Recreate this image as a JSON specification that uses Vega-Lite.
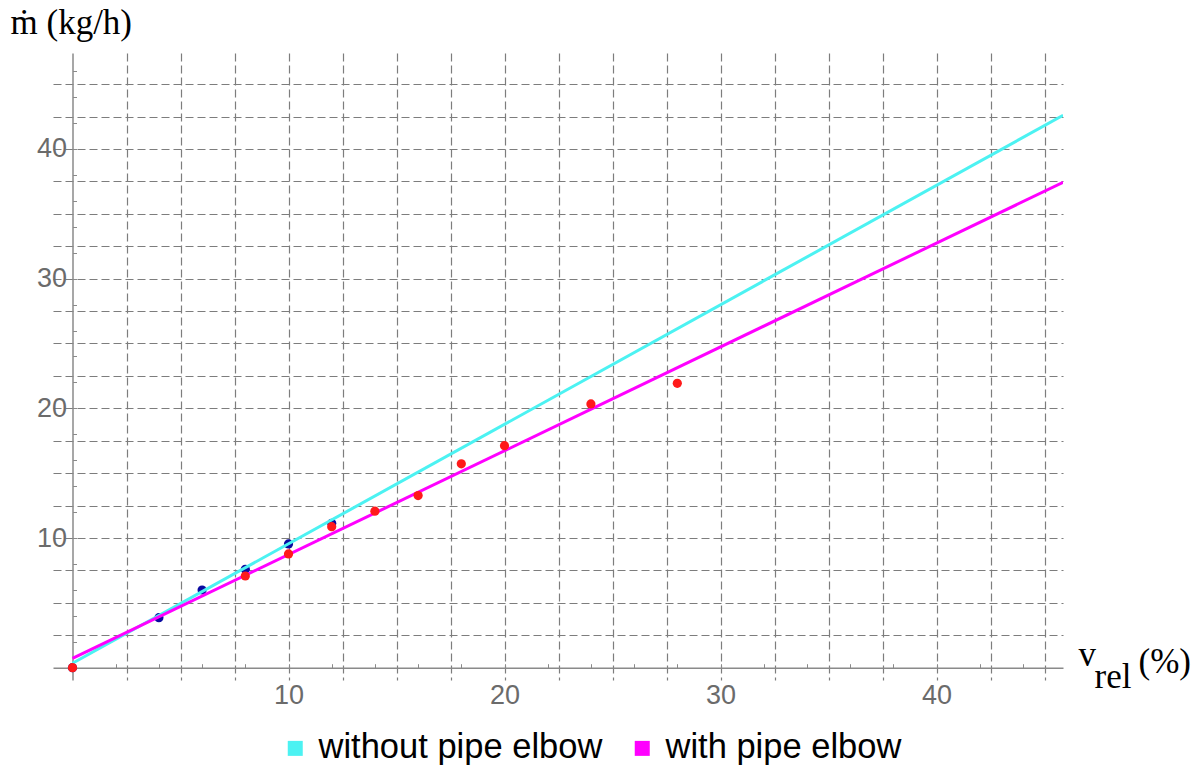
{
  "$schema": "https://vega.github.io/schema/vega-lite/v6.json",
  "width": 1010,
  "height": 627,
  "autosize": "none",
  "padding": {"left": 53, "top": 53, "right": 138, "bottom": 87},
  "background": "white",
  "config": {
    "view": {"stroke": null},
    "axis": {
      "labelFont": "Liberation Sans",
      "labelFontSize": 27,
      "labelColor": "#6b6b6b",
      "titleFont": "Liberation Serif",
      "titleFontSize": 35,
      "titleFontWeight": "normal",
      "titleColor": "black",
      "domainColor": "#8a8a8a",
      "domainWidth": 1.5,
      "tickColor": "#8a8a8a",
      "gridColor": "#7d7d7d",
      "gridDash": [8, 4],
      "gridWidth": 1.2
    }
  },
  "datasets": {
    "fits": [
      {"series": "without pipe elbow", "v": 0, "m": 0.34},
      {"series": "without pipe elbow", "v": 45.86, "m": 42.6},
      {"series": "with pipe elbow", "v": 0, "m": 0.72},
      {"series": "with pipe elbow", "v": 45.86, "m": 37.43}
    ],
    "without": [
      {"v": 0, "m": 0},
      {"v": 4, "m": 3.86},
      {"v": 6, "m": 5.99},
      {"v": 8, "m": 7.59},
      {"v": 10, "m": 9.54},
      {"v": 12, "m": 11.13}
    ],
    "with": [
      {"v": 0, "m": 0},
      {"v": 8, "m": 7.07},
      {"v": 10, "m": 8.77},
      {"v": 12, "m": 10.87},
      {"v": 14, "m": 12.07},
      {"v": 16, "m": 13.27},
      {"v": 18, "m": 15.72},
      {"v": 20, "m": 17.12},
      {"v": 24, "m": 20.34},
      {"v": 28, "m": 21.93}
    ]
  },
  "resolve": {
    "scale": {"x": "shared", "y": "shared"},
    "axis": {"x": "independent", "y": "independent"}
  },
  "layer": [
    {
      "data": {"name": "without"},
      "mark": {"type": "circle", "size": 85, "opacity": 1, "color": "#0a0aa0"},
      "encoding": {
        "x": {
          "field": "v", "type": "quantitative",
          "scale": {"domain": [-0.903, 45.856], "nice": false, "zero": false},
          "axis": {
            "orient": "bottom", "offset": -12.3,
            "domain": false, "ticks": false, "labels": false, "grid": false,
            "title": "rel", "titleX": 1041, "titleY": 19.3,
            "titleAlign": "left", "titleBaseline": "alphabetic", "titleAnchor": null
          }
        },
        "y": {
          "field": "m", "type": "quantitative",
          "scale": {"domain": [-0.949, 47.4], "nice": false, "zero": false},
          "axis": null
        }
      }
    },
    {
      "data": {"name": "fits"},
      "mark": {"type": "line", "strokeWidth": 3, "clip": true},
      "encoding": {
        "x": {
          "field": "v", "type": "quantitative",
          "scale": {"domain": [-0.903, 45.856], "nice": false, "zero": false},
          "axis": {
            "orient": "bottom", "offset": -12.3,
            "values": [2, 2.5, 4, 5, 6, 7.5, 8, 10, 12, 12.5, 14, 15, 16, 17.5, 18, 20, 22, 22.5, 24, 25, 26, 27.5, 28, 30, 32, 32.5, 34, 35, 36, 37.5, 38, 40, 42, 42.5, 44, 45],
            "grid": true,
            "gridOpacity": {"expr": "datum.value % 2.5 === 0 ? 1 : 0"},
            "tickOpacity": {"expr": "datum.value % 2 === 0 ? 1 : 0"},
            "tickSize": -4,
            "labelExpr": "datum.value % 10 === 0 ? datum.label : ''",
            "labelPadding": 19,
            "labelOverlap": false,
            "labelFlush": false,
            "labelBound": false,
            "title": "v", "titleX": 1025, "titleY": -2.7,
            "titleAlign": "left", "titleBaseline": "alphabetic", "titleAnchor": null
          }
        },
        "y": {
          "field": "m", "type": "quantitative",
          "scale": {"domain": [-0.949, 47.4], "nice": false, "zero": false},
          "axis": {
            "orient": "left", "offset": -19.5,
            "values": [2, 2.5, 4, 5, 6, 7.5, 8, 10, 12, 12.5, 14, 15, 16, 17.5, 18, 20, 22, 22.5, 24, 25, 26, 27.5, 28, 30, 32, 32.5, 34, 35, 36, 37.5, 38, 40, 42, 42.5, 44, 45, 46],
            "grid": true,
            "gridOpacity": {"expr": "datum.value % 2.5 === 0 ? 1 : 0"},
            "tickOpacity": {"expr": "datum.value % 2 === 0 ? 1 : 0"},
            "tickSize": -4,
            "labelExpr": "datum.value % 10 === 0 ? datum.label : ''",
            "labelPadding": 10,
            "labelOverlap": false,
            "labelFlush": false,
            "labelBound": false,
            "title": "ṁ (kg/h)", "titleAngle": 0, "titleX": -62.5, "titleY": -20,
            "titleAlign": "left", "titleBaseline": "alphabetic", "titleAnchor": null
          }
        },
        "color": {
          "field": "series", "type": "nominal",
          "scale": {"domain": ["without pipe elbow", "with pipe elbow"], "range": ["#4cf2f2", "#ff00ff"]},
          "legend": {
            "orient": "none", "legendX": 225, "legendY": 678,
            "direction": "horizontal", "title": null, "padding": 0,
            "symbolType": "square", "symbolSize": 1, "symbolStrokeWidth": 14,
            "symbolOpacity": 1,
            "labelFont": "Liberation Sans", "labelFontSize": 34.5, "labelColor": "black",
            "labelOffset": 6, "columnPadding": 10, "labelLimit": 600
          }
        }
      }
    },
    {
      "data": {"name": "with"},
      "mark": {"type": "circle", "size": 85, "opacity": 1, "color": "#ff1a1a"},
      "encoding": {
        "x": {
          "field": "v", "type": "quantitative",
          "scale": {"domain": [-0.903, 45.856], "nice": false, "zero": false},
          "axis": {
            "orient": "bottom", "offset": -12.3,
            "domain": false, "ticks": false, "labels": false, "grid": false,
            "title": "(%)", "titleX": 1085, "titleY": 4.3,
            "titleAlign": "left", "titleBaseline": "alphabetic", "titleAnchor": null
          }
        },
        "y": {
          "field": "m", "type": "quantitative",
          "scale": {"domain": [-0.949, 47.4], "nice": false, "zero": false},
          "axis": null
        }
      }
    }
  ]
}
